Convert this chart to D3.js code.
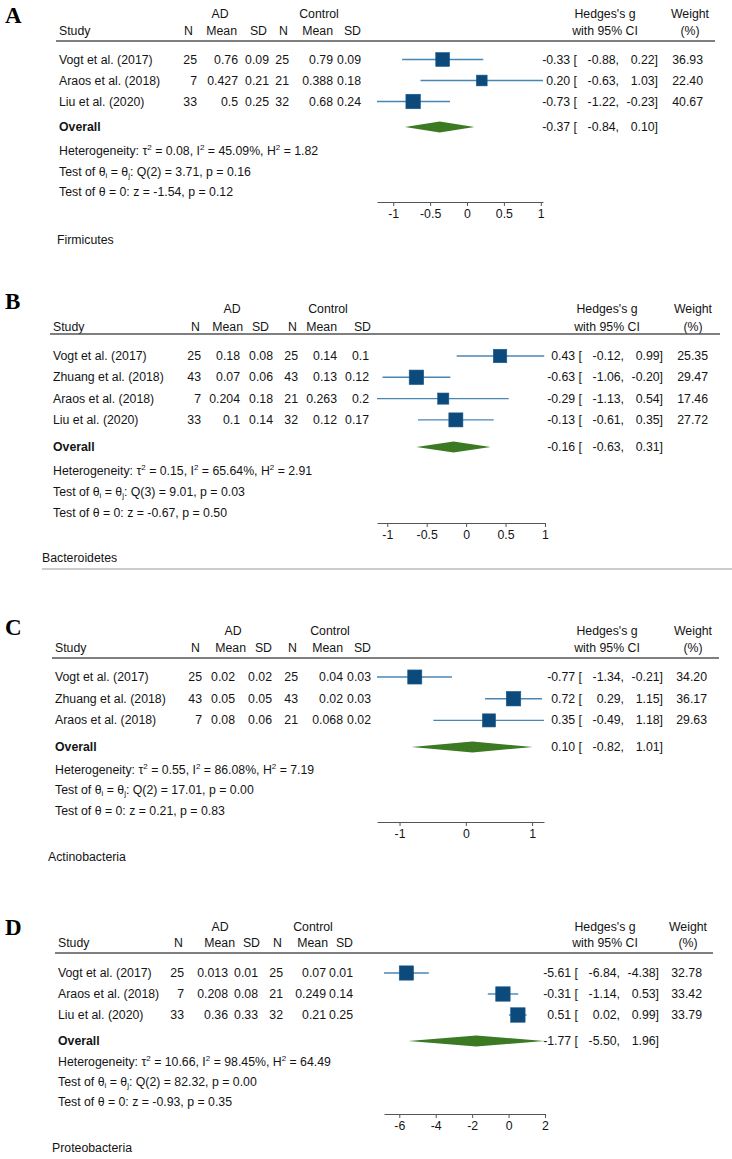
<!DOCTYPE html>
<html><head><meta charset="utf-8">
<script src="https://cdn.jsdelivr.net/npm/d3@7"></script>
<style>body{margin:0;background:#fff}</style>
</head><body><svg id="c" width="732" height="1159"></svg>
<script>
// ---------- DATA ----------
// Panel A: Firmicutes
const studiesA = ["Vogt et al. (2017)","Araos et al. (2018)","Liu et al. (2020)"];
const adA   = [[25,"0.76","0.09"],[7,"0.427","0.21"],[33,"0.5","0.25"]];
const ctrlA = [[25,"0.79","0.09"],[21,"0.388","0.18"],[32,"0.68","0.24"]];
const gA = [-0.33, 0.20, -0.73];
const loA = [-0.88, -0.63, -1.22];
const hiA = [0.22, 1.03, -0.23];
const weightA = [36.93, 22.40, 40.67];
const overallA = [-0.37, -0.84, 0.10];
const hetA = ["0.08","45.09%","1.82"];
const qA = ["2","3.71","0.16"];
const zA = ["-1.54","0.12"];
const ticksA = [-1,-0.5,0,0.5,1];
const nameA = "Firmicutes";

// Panel B: Bacteroidetes
const studiesB = ["Vogt et al. (2017)","Zhuang et al. (2018)","Araos et al. (2018)","Liu et al. (2020)"];
const adB   = [[25,"0.18","0.08"],[43,"0.07","0.06"],[7,"0.204","0.18"],[33,"0.1","0.14"]];
const ctrlB = [[25,"0.14","0.1"],[43,"0.13","0.12"],[21,"0.263","0.2"],[32,"0.12","0.17"]];
const gB = [0.43, -0.63, -0.29, -0.13];
const loB = [-0.12, -1.06, -1.13, -0.61];
const hiB = [0.99, -0.20, 0.54, 0.35];
const weightB = [25.35, 29.47, 17.46, 27.72];
const overallB = [-0.16, -0.63, 0.31];
const hetB = ["0.15","65.64%","2.91"];
const qB = ["3","9.01","0.03"];
const zB = ["-0.67","0.50"];
const ticksB = [-1,-0.5,0,0.5,1];
const nameB = "Bacteroidetes";

// Panel C: Actinobacteria
const studiesC = ["Vogt et al. (2017)","Zhuang et al. (2018)","Araos et al. (2018)"];
const adC   = [[25,"0.02","0.02"],[43,"0.05","0.05"],[7,"0.08","0.06"]];
const ctrlC = [[25,"0.04","0.03"],[43,"0.02","0.03"],[21,"0.068","0.02"]];
const gC = [-0.77, 0.72, 0.35];
const loC = [-1.34, 0.29, -0.49];
const hiC = [-0.21, 1.15, 1.18];
const weightC = [34.20, 36.17, 29.63];
const overallC = [0.10, -0.82, 1.01];
const hetC = ["0.55","86.08%","7.19"];
const qC = ["2","17.01","0.00"];
const zC = ["0.21","0.83"];
const ticksC = [-1,0,1];
const nameC = "Actinobacteria";

// Panel D: Proteobacteria
const studiesD = ["Vogt et al. (2017)","Araos et al. (2018)","Liu et al. (2020)"];
const adD   = [[25,"0.013","0.01"],[7,"0.208","0.08"],[33,"0.36","0.33"]];
const ctrlD = [[25,"0.07","0.01"],[21,"0.249","0.14"],[32,"0.21","0.25"]];
const gD = [-5.61, -0.31, 0.51];
const loD = [-6.84, -1.14, 0.02];
const hiD = [-4.38, 0.53, 0.99];
const weightD = [32.78, 33.42, 33.79];
const overallD = [-1.77, -5.50, 1.96];
const hetD = ["10.66","98.45%","64.49"];
const qD = ["2","82.32","0.00"];
const zD = ["-0.93","0.35"];
const ticksD = [-6,-4,-2,0,2];
const nameD = "Proteobacteria";

const panelLetters = ["A","B","C","D"];

// ---------- LAYOUT (positions only) ----------
const layouts = [
  {letterY:15, adY:14, studyY:31, lineY:41, row1:59.5, step:21, overallY:127, stats:[151,172,192], axisY:202, subY:240, subX:57,
   studyX:59, hdr:[193,237,267,288,333,361], val:[197,238,269,289,333,361], adX:220, ctrlX:319,
   lineX0:56, lineX1:715, ax0:377, ax1:543, ciR:658, wR:703, hgX:605, wtX:690},
  {letterY:301, adY:309, studyY:327, lineY:334, row1:356, step:21.3, overallY:447, stats:[471,492,513], axisY:523, subY:558, subX:42,
   studyX:53, hdr:[200,243,269,297,337,371], val:[201,240,273,298,337,369], adX:232, ctrlX:328,
   lineX0:50, lineX1:720, ax0:377, ax1:545, ciR:663, wR:708, hgX:607, wtX:693, sep:569},
  {letterY:627, adY:631, studyY:648, lineY:658, row1:677, step:21.7, overallY:747, stats:[770,790,811], axisY:822, subY:857, subX:48,
   studyX:55, hdr:[200,246,272,297,343,371], val:[202,235,272,298,343,371], adX:233, ctrlX:330,
   lineX0:52, lineX1:719, ax0:377, ax1:544, ciR:663, wR:707, hgX:607, wtX:693},
  {letterY:927, adY:927, studyY:943, lineY:953, row1:973, step:21, overallY:1041, stats:[1062,1082,1102], axisY:1114, subY:1148, subX:52,
   studyX:58, hdr:[183,235,260,282,328,353], val:[184,228,258,283,326,353], adX:220, ctrlX:313,
   lineX0:55, lineX1:713, ax0:384, ax1:545, ciR:659, wR:702, hgX:605, wtX:688}
];

const panels = [
  {studies:studiesA, ad:adA, ctrl:ctrlA, g:gA, lo:loA, hi:hiA, w:weightA, overall:overallA, het:hetA, q:qA, z:zA, ticks:ticksA, name:nameA},
  {studies:studiesB, ad:adB, ctrl:ctrlB, g:gB, lo:loB, hi:hiB, w:weightB, overall:overallB, het:hetB, q:qB, z:zB, ticks:ticksB, name:nameB},
  {studies:studiesC, ad:adC, ctrl:ctrlC, g:gC, lo:loC, hi:hiC, w:weightC, overall:overallC, het:hetC, q:qC, z:zC, ticks:ticksC, name:nameC},
  {studies:studiesD, ad:adD, ctrl:ctrlD, g:gD, lo:loD, hi:hiD, w:weightD, overall:overallD, het:hetD, q:qD, z:zD, ticks:ticksD, name:nameD}
];

// ---------- DRAW ----------
const svg = d3.select("#c");
const FONT = "'Liberation Sans', Arial, Helvetica, sans-serif";
const FS = 12.3;
const TXT = "#141414";
const f2 = v => v.toFixed(2);

function txt(g, x, y, s, anchor, opts={}) {
  return g.append("text").attr("x", x).attr("y", y)
    .attr("text-anchor", anchor || "start")
    .attr("dominant-baseline", "central")
    .attr("font-family", FONT).attr("font-size", opts.size || FS)
    .attr("font-weight", opts.weight || "normal")
    .attr("fill", TXT).text(s);
}

function richLine(g, x, y, parts) {
  const t = g.append("text").attr("x", x).attr("y", y)
    .attr("dominant-baseline", "central")
    .attr("font-family", FONT).attr("font-size", FS).attr("fill", TXT);
  let shift = 0;
  parts.forEach(([s, mode]) => {
    const target = mode === "sup" ? -4 : mode === "sub" ? 3 : 0;
    t.append("tspan").attr("dy", target - shift)
      .attr("font-size", mode ? 8 : FS).text(s);
    shift = target;
  });
}

panels.forEach((p, i) => {
  const L = layouts[i];
  const g = svg.append("g");

  g.append("text").attr("x", 5).attr("y", L.letterY)
    .attr("dominant-baseline", "central")
    .attr("font-family", "'Liberation Serif', 'Times New Roman', serif")
    .attr("font-size", 23).attr("font-weight", "bold").attr("fill", "#000")
    .text(panelLetters[i]);

  txt(g, L.adX, L.adY, "AD", "middle");
  txt(g, L.ctrlX, L.adY, "Control", "middle");
  txt(g, L.studyX, L.studyY, "Study", "start");
  ["N","Mean","SD","N","Mean","SD"].forEach((h, k) => txt(g, L.hdr[k], L.studyY, h, "end"));
  txt(g, L.hgX, L.adY, "Hedges's g", "middle");
  txt(g, L.hgX, L.studyY, "with 95% CI", "middle");
  txt(g, L.wtX, L.adY, "Weight", "middle");
  txt(g, L.wtX, L.studyY, "(%)", "middle");

  g.append("line").attr("x1", L.lineX0).attr("x2", L.lineX1)
    .attr("y1", L.lineY).attr("y2", L.lineY)
    .attr("stroke", "#555").attr("stroke-width", 1.5);

  const dom = [Math.min(d3.min(p.lo), d3.min(p.ticks)), Math.max(d3.max(p.hi), d3.max(p.ticks))];
  const x = d3.scaleLinear().domain(dom).range([L.ax0, L.ax1]);
  const y = d3.scaleLinear().domain([0, 1]).range([L.row1, L.row1 + L.step]);
  const maxW = d3.max(p.w);

  p.studies.forEach((s, r) => {
    const yy = y(r);
    txt(g, L.studyX, yy, s, "start");
    const cells = [...p.ad[r], ...p.ctrl[r]];
    cells.forEach((c, k) => txt(g, L.val[k], yy, String(c), "end"));
    g.append("line").attr("x1", x(p.lo[r])).attr("x2", x(p.hi[r]))
      .attr("y1", yy).attr("y2", yy)
      .attr("stroke", "#4a86b4").attr("stroke-width", 1.4);
    const side = 14.5 * Math.sqrt(p.w[r] / maxW);
    g.append("rect").attr("x", x(p.g[r]) - side/2).attr("y", yy - side/2)
      .attr("width", side).attr("height", side)
      .attr("fill", "#0c4a7c").attr("stroke", "#1d5a8a").attr("stroke-width", 0.6);
    txt(g, L.ciR - 81, yy, f2(p.g[r]) + " [", "end");
    txt(g, L.ciR - 39, yy, f2(p.lo[r]) + ",", "end");
    txt(g, L.ciR, yy, f2(p.hi[r]) + "]", "end");
    txt(g, L.wR, yy, f2(p.w[r]), "end");
  });

  txt(g, L.studyX, L.overallY, "Overall", "start", {weight: "bold"});
  const [oe, ol, oh] = p.overall;
  const dh = 5.5;
  g.append("path")
    .attr("d", `M${x(ol)},${L.overallY} L${x(oe)},${L.overallY - dh} L${x(oh)},${L.overallY} L${x(oe)},${L.overallY + dh} Z`)
    .attr("fill", "#3b7a23");
  txt(g, L.ciR - 81, L.overallY, f2(oe) + " [", "end");
  txt(g, L.ciR - 39, L.overallY, f2(ol) + ",", "end");
  txt(g, L.ciR, L.overallY, f2(oh) + "]", "end");

  richLine(g, L.studyX, L.stats[0], [["Heterogeneity: τ"], ["2","sup"], [" = " + p.het[0] + ", I"], ["2","sup"], [" = " + p.het[1] + ", H"], ["2","sup"], [" = " + p.het[2]]]);
  richLine(g, L.studyX, L.stats[1], [["Test of θ"], ["i","sub"], [" = θ"], ["j","sub"], [": Q(" + p.q[0] + ") = " + p.q[1] + ", p = " + p.q[2]]]);
  richLine(g, L.studyX, L.stats[2], [["Test of θ = 0: z = " + p.z[0] + ", p = " + p.z[1]]]);

  const ax = g.append("g").attr("transform", `translate(0,${L.axisY})`)
    .call(d3.axisBottom(x).tickValues(p.ticks).tickSize(4).tickSizeOuter(0).tickPadding(3)
      .tickFormat(t => String(t)));
  ax.select(".domain").attr("stroke", "#555");
  ax.selectAll(".tick line").attr("stroke", "#555");
  ax.selectAll(".tick text").attr("font-family", FONT).attr("font-size", FS).attr("fill", TXT);

  txt(g, L.subX, L.subY, p.name, "start");

  if (L.sep) {
    g.append("line").attr("x1", 42).attr("x2", 732).attr("y1", L.sep).attr("y2", L.sep)
      .attr("stroke", "#999").attr("stroke-width", 1);
  }
});
</script></body></html>
